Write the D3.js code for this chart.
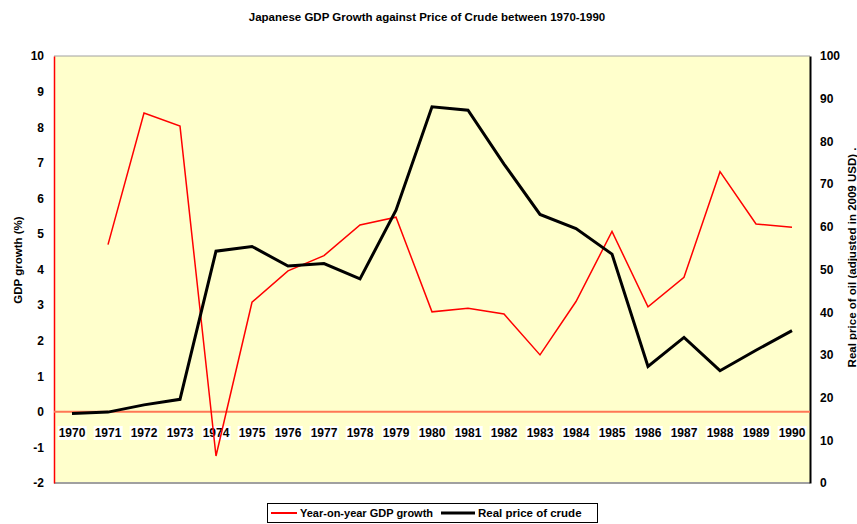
<!DOCTYPE html>
<html><head><meta charset="utf-8">
<script src="https://cdn.jsdelivr.net/npm/d3@7"></script>
<style>body{margin:0;background:#fff;}svg{display:block;font-family:"Liberation Sans",Arial,sans-serif;}</style>
</head><body>
<svg id="c" width="857" height="524"></svg>
<script>
const years = ["1970","1971","1972","1973","1974","1975","1976","1977","1978","1979","1980","1981","1982","1983","1984","1985","1986","1987","1988","1989","1990"];
const gdpGrowth = [null,4.7,8.4,8.03,-1.24,3.08,3.96,4.39,5.25,5.47,2.81,2.91,2.75,1.6,3.1,5.07,2.95,3.78,6.75,5.28,5.19];
const oilPrice = [16.3,16.6,18.3,19.6,54.3,55.4,50.8,51.4,47.8,63.9,88.1,87.3,74.7,62.9,59.6,53.6,27.3,34.1,26.3,31.1,35.7];
const leftTicks = [-2,-1,0,1,2,3,4,5,6,7,8,9,10];
const rightTicks = [0,10,20,30,40,50,60,70,80,90,100];
const title = "Japanese GDP Growth against Price of Crude between 1970-1990";
const leftTitle = "GDP growth (%)";
const rightTitle = "Real price of oil (adjusted in 2009 USD) .";
const legendLabels = ["Year-on-year GDP growth","Real price of crude"];

const svg = d3.select("#c");
const L=54, R=810, T=56, B=483;
const x = d3.scaleBand().domain(years).range([L,R]);
const yL = d3.scaleLinear().domain([-2,10]).range([B,T]);
const yR = d3.scaleLinear().domain([0,100]).range([B,T]);

svg.append("text").attr("x",427).attr("y",21).attr("text-anchor","middle")
  .attr("font-size",11.5).attr("font-weight","bold").text(title);

svg.append("rect").attr("x",L).attr("y",T).attr("width",R-L).attr("height",B-T).attr("fill","#FFFFCC");
svg.append("line").attr("x1",L).attr("x2",R).attr("y1",T).attr("y2",T).attr("stroke","#a0a0a0").attr("stroke-width",1);
svg.append("line").attr("x1",L).attr("x2",R).attr("y1",B).attr("y2",B).attr("stroke","#a0a0a0").attr("stroke-width",2);

// left axis
const gl = svg.append("g").attr("transform",`translate(${L},0)`)
  .call(d3.axisLeft(yL).tickValues(leftTicks).tickFormat(d=>String(d)).tickSize(0).tickPadding(10));
gl.select(".domain").attr("stroke","#ff0000").attr("stroke-width",1.5);
gl.selectAll("text").attr("font-size",12).attr("font-weight","bold").attr("font-family","Liberation Sans, Arial, sans-serif").attr("fill","#000");

// right axis
const gr = svg.append("g").attr("transform",`translate(${R},0)`)
  .call(d3.axisRight(yR).tickValues(rightTicks).tickFormat(d=>String(d)).tickSize(0).tickPadding(10));
gr.select(".domain").attr("stroke","#000").attr("stroke-width",2);
gr.selectAll("text").attr("font-size",12).attr("font-weight","bold").attr("font-family","Liberation Sans, Arial, sans-serif").attr("fill","#000");

// zero line
svg.append("line").attr("x1",L).attr("x2",R).attr("y1",yL(0)).attr("y2",yL(0)).attr("stroke","#FF7755").attr("stroke-width",2);

// axis titles
svg.append("text").attr("transform",`translate(22,260) rotate(-90)`).attr("text-anchor","middle")
  .attr("font-size",11.5).attr("font-weight","bold").text(leftTitle);
svg.append("text").attr("transform",`translate(856,${(T+B)/2-12}) rotate(-90)`).attr("text-anchor","middle")
  .attr("font-size",11.5).attr("font-weight","bold").text(rightTitle);

// x labels with white background
const xg = svg.append("g");
years.forEach(yv=>{
  const cx = x(yv)+x.bandwidth()/2;
  const t = xg.append("text").attr("x",cx).attr("y",437).attr("text-anchor","middle")
    .attr("font-size",12).attr("font-weight","bold").text(yv);
  const bb = t.node().getBBox();
  xg.insert("rect","text").attr("x",bb.x-1).attr("y",bb.y).attr("width",bb.width+2).attr("height",bb.height).attr("fill","#fff");
});

// lines
const lineG = d3.line().defined(d=>d.v!==null).x(d=>x(d.y)+x.bandwidth()/2).y(d=>yL(d.v));
svg.append("path").datum(years.map((y,i)=>({y,v:gdpGrowth[i]})))
  .attr("d",lineG).attr("fill","none").attr("stroke","#ff0000").attr("stroke-width",1.5);
const lineO = d3.line().x(d=>x(d.y)+x.bandwidth()/2).y(d=>yR(d.v));
svg.append("path").datum(years.map((y,i)=>({y,v:oilPrice[i]})))
  .attr("d",lineO).attr("fill","none").attr("stroke","#000").attr("stroke-width",3);

// legend
const lg = svg.append("g");
lg.append("rect").attr("x",267.5).attr("y",503.5).attr("width",330).attr("height",19).attr("fill","#fff").attr("stroke","#000");
lg.append("line").attr("x1",271).attr("x2",297).attr("y1",513).attr("y2",513).attr("stroke","#ff0000").attr("stroke-width",2);
lg.append("text").attr("x",300).attr("y",517).attr("font-size",11).attr("font-weight","bold").text(legendLabels[0]);
lg.append("line").attr("x1",441).attr("x2",475).attr("y1",513).attr("y2",513).attr("stroke","#000").attr("stroke-width",3);
lg.append("text").attr("x",478).attr("y",517).attr("font-size",11.5).attr("font-weight","bold").text(legendLabels[1]);
</script>
</body></html>
